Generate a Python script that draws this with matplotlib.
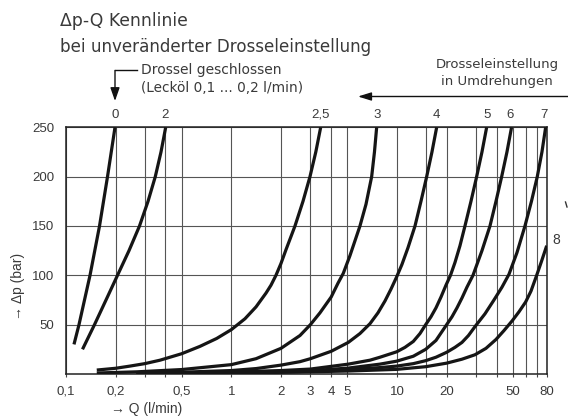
import matplotlib
matplotlib.use("Agg")
from matplotlib import pyplot as plt
from matplotlib.lines import Line2D
from matplotlib.transforms import blended_transform_factory

plt.rcParams['font.family'] = ['Liberation Sans', 'DejaVu Sans']
NOTE_FONT = ['DejaVu Sans']

# throttle settings (turns) and their curves, Q in l/min, dp in bar
settings = ['0', '2', '2,5', '3', '4', '5', '6', '7', '8']

q_0 = [0.1122, 0.1203, 0.1402, 0.1600, 0.1788, 0.1984]
p_0 = [30, 50, 100, 150, 200, 250]

q_2 = [0.1263, 0.1492, 0.1751, 0.2054, 0.2410, 0.2789, 0.3140, 0.3473, 0.3760, 0.4013]
p_2 = [25, 50, 75, 100, 125, 150, 175, 200, 225, 250]

q_25 = [0.154, 0.200, 0.244, 0.300, 0.371, 0.500, 0.646, 0.815, 1.0, 1.208, 1.408,
        1.618, 1.734, 1.858, 1.992, 2.136, 2.274, 2.420, 2.705, 2.981, 3.232, 3.459]
p_25 = [4, 5.8, 8, 10.5, 14, 20.5, 28, 36, 45, 56, 68,
        82, 90, 100, 112, 126, 138, 150, 175, 200, 225, 250]

q_3 = [0.154, 0.268, 0.500, 1.0, 1.408, 1.992, 2.594, 2.998, 3.425, 4.002,
       4.399, 4.735, 5.197, 5.571, 5.971, 6.493, 7.025, 7.304, 7.530]
p_3 = [1, 2.2, 4.5, 9.5, 15.5, 26, 39, 50, 62, 78,
       92, 102, 120, 135, 150, 172, 200, 225, 250]

q_4 = [0.268, 0.500, 1.0, 1.408, 1.992, 2.594, 2.998, 4.002, 5.076, 5.971, 6.864,
       7.670, 8.453, 9.188, 9.918, 10.70, 11.64, 12.83, 13.94, 15.09, 16.24, 17.34]
p_4 = [0.8, 1.8, 3.5, 5.5, 9, 12.5, 15.5, 23, 32, 41, 51,
       62, 74, 86, 98, 111, 128, 150, 175, 200, 225, 250]

q_5 = [0.268, 0.500, 1.0, 1.992, 2.998, 5.076, 6.864, 7.885, 9.945, 11.16, 12.53, 13.75,
       14.88, 16.02, 17.17, 18.41, 19.73, 21.01, 22.36, 23.97, 25.69, 27.93, 30.22, 32.54, 34.73]
p_5 = [0.6, 1.2, 2, 3.5, 5, 10, 14, 17, 22.5, 27, 33, 41,
       50, 58, 67, 78, 90, 100, 113, 130, 150, 175, 200, 225, 250]

q_6 = [0.268, 1.0, 2.594, 5.076, 7.885, 9.945, 12.53, 14.88, 17.17, 19.92, 21.45,
       22.99, 24.64, 26.41, 28.72, 32.54, 36.37, 39.54, 42.79, 46.05, 49.09]
p_6 = [0.5, 1.2, 2.5, 6, 10, 13, 18, 25, 34, 50, 58,
       67, 77, 88, 100, 125, 150, 175, 200, 225, 250]

q_7 = [0.268, 1.0, 5.076, 7.885, 9.945, 12.53, 14.88, 17.17, 19.92, 22.36, 24.64, 26.97,
       29.52, 33.93, 38.44, 42.97, 47.35, 52.92, 59.14, 64.73, 70.18, 74.89, 78.84]
p_7 = [0.4, 1, 4.5, 6.5, 8, 10.5, 13.5, 17, 22, 27, 32, 39,
       48, 61, 75, 88, 101, 123, 150, 175, 200, 225, 250]

q_8 = [0.268, 1.0, 5.076, 9.945, 14.88, 19.92, 24.64, 29.52, 34.40, 39.54, 44.18,
       49.57, 54.41, 59.71, 64.30, 69.59, 74.37, 80.0]
p_8 = [0.3, 0.8, 3, 4.7, 7.4, 11, 15, 19.5, 26, 35, 44,
       54, 63, 73, 84, 100, 114, 130]

curves = [(q_0, p_0), (q_2, p_2), (q_25, p_25), (q_3, p_3), (q_4, p_4),
          (q_5, p_5), (q_6, p_6), (q_7, p_7), (q_8, p_8)]

x_ticks = [0.1, 0.2, 0.5, 1, 2, 3, 4, 5, 10, 20, 50, 80]
x_tick_labels = ['0,1', '0,2', '0,5', '1', '2', '3', '4', '5', '10', '20', '50', '80']
x_minor = [0.3, 0.4, 15, 30, 40, 60, 70]
y_ticks = [50, 100, 150, 200, 250]

W, H = 568, 419
fig = plt.figure(figsize=(W / 100, H / 100), dpi=100)
ax = fig.add_axes([65.7 / W, 1 - 374 / H, (546.7 - 65.7) / W, (374 - 127.3) / H])


def fx(px):
    return px / W


def fy(py):
    return 1 - py / H


txt = '#3a3a3a'
for q, p in curves:
    ax.plot(q, p, color='#151515', lw=2.3, solid_capstyle='butt',
            solid_joinstyle='round', zorder=3)

ax.set_xscale('log')
ax.set_xlim(0.1, 80)
ax.set_ylim(0, 250)
ax.set_xticks(x_ticks)
ax.set_xticklabels(x_tick_labels)
ax.set_xticks(x_minor, minor=True)
ax.set_xticklabels([], minor=True)
ax.set_yticks(y_ticks)
ax.tick_params(axis='x', which='both', direction='out', length=2.5, width=0.8,
               pad=6, labelsize=9.5, labelcolor=txt, color='#444444')
ax.tick_params(axis='y', length=0, pad=8, labelsize=9.5, labelcolor=txt)
ax.grid(True, which='both', axis='x', color='#555555', lw=0.8)
ax.grid(True, axis='y', color='#555555', lw=0.8)
for s in ax.spines.values():
    s.set_color('#222222')
    s.set_linewidth(1.1)

# setting labels above the curve ends
tr = blended_transform_factory(ax.transData, ax.transAxes)
label_x = [0.198, 0.40, 3.46, 7.53, 17.3, 34.7, 48.0, 77.0]
for lab, x in zip(settings[:-1], label_x):
    ax.text(x, 1.05, lab, transform=tr, ha='center', va='center',
            fontsize=9.5, color=txt)
fig.text(fx(552), fy(240), settings[-1], ha='left', va='center', fontsize=10, color=txt)

# titles and notes
fig.text(fx(60), fy(21), 'Δp-Q Kennlinie', ha='left', va='center', fontsize=12.4,
         color=txt, family=NOTE_FONT)
fig.text(fx(60), fy(47), 'bei unveränderter Drosseleinstellung', ha='left', va='center',
         fontsize=12.1, color=txt, family=NOTE_FONT)
fig.text(fx(141), fy(70), 'Drossel geschlossen', ha='left', va='center', fontsize=10,
         color=txt, family=NOTE_FONT)
fig.text(fx(141), fy(88), '(Lecköl 0,1 ... 0,2 l/min)', ha='left', va='center',
         fontsize=9.8, color=txt, family=NOTE_FONT)
fig.text(fx(497), fy(64), 'Drosseleinstellung', ha='center', va='center', fontsize=9.5,
         color=txt, family=NOTE_FONT)
fig.text(fx(497), fy(81), 'in Umdrehungen', ha='center', va='center', fontsize=9.5,
         color=txt, family=NOTE_FONT)

fig.text(fx(18), fy(286), '→ Δp (bar)', rotation=90, ha='center', va='center',
         fontsize=10, color=txt)
fig.text(fx(147), fy(409), '→ Q (l/min)', ha='center', va='center', fontsize=10, color=txt)

# arrows and the cut-off mark at the right edge
fig.add_artist(Line2D([fx(137), fx(115)], [fy(70.5), fy(70.5)], color='#111111', lw=1.0))
fig.add_artist(Line2D([fx(565.5), fx(567)], [fy(202), fy(207)], color='#333333', lw=1.0))
ax.annotate('', xy=(fx(115), fy(101)), xytext=(fx(115), fy(70.5)),
            xycoords='figure fraction', textcoords='figure fraction',
            arrowprops=dict(arrowstyle='-|>,head_length=0.8,head_width=0.28',
                            color='#111111', lw=1.0, shrinkA=0, shrinkB=0))
ax.annotate('', xy=(fx(358), fy(96.5)), xytext=(fx(570), fy(96.5)),
            xycoords='figure fraction', textcoords='figure fraction',
            arrowprops=dict(arrowstyle='-|>,head_length=0.8,head_width=0.25',
                            color='#111111', lw=1.0, shrinkA=0, shrinkB=0))

fig.savefig('out.png', dpi=100)
